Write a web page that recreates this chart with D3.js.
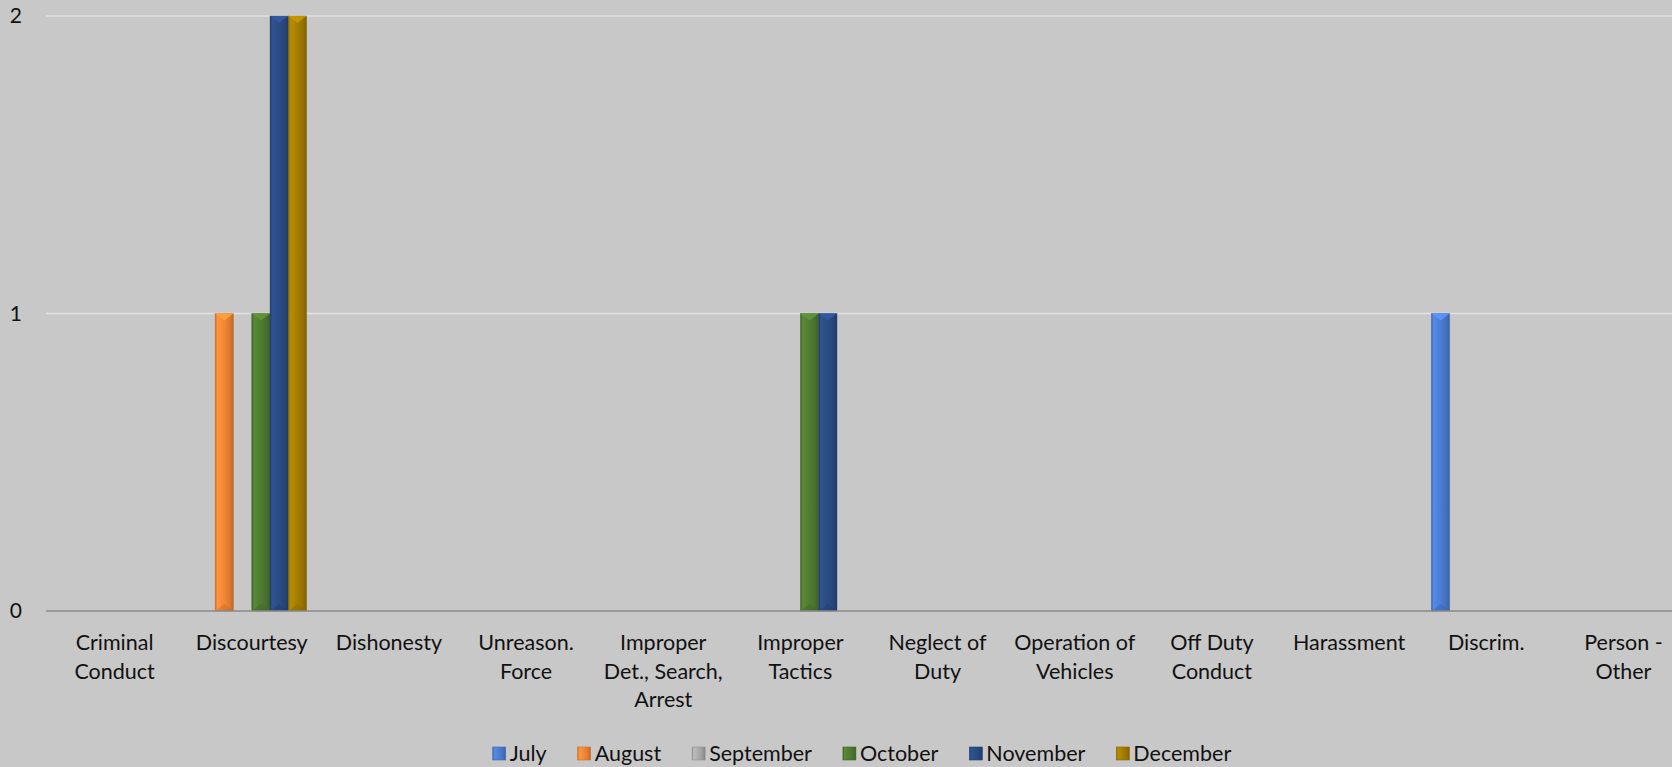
<!DOCTYPE html>
<html>
<head>
<meta charset="utf-8">
<script src="https://cdn.jsdelivr.net/npm/d3@7"></script>
<style>
  body { margin: 0; background: #c8c8c8; overflow: hidden; }
  text { font-family: Lato, "Open Sans", sans-serif; fill: #111; }
</style>
</head>
<body>
<div id="chart"></div>
<script>
// categories (line breaks as in the original axis)
var categories = ["Criminal\nConduct", "Discourtesy", "Dishonesty", "Unreason.\nForce",
  "Improper\nDet., Search,\nArrest", "Improper\nTactics", "Neglect of\nDuty", "Operation of\nVehicles",
  "Off Duty\nConduct", "Harassment", "Discrim.", "Person -\nOther"];

var months = ["July", "August", "September", "October", "November", "December"];

var july      = [0, 0, 0, 0, 0, 0, 0, 0, 0, 0, 1, 0];
var august    = [0, 1, 0, 0, 0, 0, 0, 0, 0, 0, 0, 0];
var september = [0, 0, 0, 0, 0, 0, 0, 0, 0, 0, 0, 0];
var october   = [0, 1, 0, 0, 0, 1, 0, 0, 0, 0, 0, 0];
var november  = [0, 2, 0, 0, 0, 1, 0, 0, 0, 0, 0, 0];
var december  = [0, 2, 0, 0, 0, 0, 0, 0, 0, 0, 0, 0];

var yTicks = [0, 1, 2];

var series = [july, august, september, october, november, december];
var colors = ["#4a7bd0", "#ef8434", "#a8a8a8", "#4e7a31", "#2a4a82", "#a27c00"];

/*********************** Plot Below *********************/
var width = 1672, height = 767;
// the plot area runs past the right edge of the picture (cropped like the original)
var plot = { left: 46, right: 1692, top: 16, bottom: 611 };

var svg = d3.select("#chart").append("svg")
  .attr("width", width)
  .attr("height", height);

var x0 = d3.scaleBand()
  .domain(d3.range(categories.length))
  .range([plot.left, plot.right])
  .padding(0);

var x1 = d3.scaleBand()
  .domain(months)
  .range([0, x0.bandwidth()])
  .paddingInner(0)
  .paddingOuter(0.75);

var y = d3.scaleLinear()
  .domain([0, 2])
  .range([plot.bottom, plot.top]);

// gradients for the bevelled bars
var defs = svg.append("defs");
colors.forEach(function(c, i) {
  var g = defs.append("linearGradient")
    .attr("id", "grad" + i)
    .attr("x1", "0%").attr("x2", "100%").attr("y1", "0%").attr("y2", "0%");
  var base = d3.color(c);
  g.append("stop").attr("offset", "0%").attr("stop-color", base.darker(0.6));
  g.append("stop").attr("offset", "12%").attr("stop-color", base.brighter(0.35));
  g.append("stop").attr("offset", "35%").attr("stop-color", base.brighter(0.15));
  g.append("stop").attr("offset", "55%").attr("stop-color", base);
  g.append("stop").attr("offset", "80%").attr("stop-color", base.darker(0.25));
  g.append("stop").attr("offset", "100%").attr("stop-color", base.darker(0.7));
});

// gridlines
svg.append("g").selectAll("line")
  .data(yTicks.filter(function(d) { return d > 0; }))
  .enter().append("line")
  .attr("x1", plot.left).attr("x2", width)
  .attr("y1", function(d) { return y(d); })
  .attr("y2", function(d) { return y(d); })
  .attr("stroke", "#e2e2e2")
  .attr("stroke-width", 1.5);

// y labels
var yAxis = d3.axisLeft(y).tickValues(yTicks).tickFormat(d3.format("d")).tickSize(0).tickPadding(0);
var yg = svg.append("g")
  .attr("transform", "translate(22,0)")
  .call(yAxis);
yg.select(".domain").remove();
yg.selectAll("text")
  .style("font-family", "Lato, sans-serif")
  .style("font-size", "21px")
  .attr("fill", "#111");

// bars
var groups = svg.append("g").selectAll("g")
  .data(series)
  .enter().append("g");

var bars = groups.selectAll("g")
  .data(function(s, i) {
    return s.map(function(v, k) { return { s: i, k: k, v: v }; })
      .filter(function(d) { return d.v > 0; });
  })
  .enter().append("g");

bars.append("rect")
  .attr("x", function(d) { return x0(d.k) + x1(months[d.s]); })
  .attr("y", function(d) { return y(d.v); })
  .attr("width", x1.bandwidth())
  .attr("height", function(d) { return y(0) - y(d.v); })
  .attr("fill", function(d) { return "url(#grad" + d.s + ")"; })
  .attr("stroke", function(d) { return d3.color(colors[d.s]).darker(0.5); })
  .attr("stroke-opacity", 0.5)
  .attr("stroke-width", 0.8);

// top bevel triangle
bars.append("path")
  .attr("d", function(d) {
    var xl = x0(d.k) + x1(months[d.s]), w = x1.bandwidth(), yt = y(d.v);
    return "M" + xl + "," + yt + "L" + (xl + w) + "," + yt + "L" + (xl + w / 2) + "," + (yt + 7) + "Z";
  })
  .attr("fill", function(d) { return d3.color(colors[d.s]).brighter(0.6); })
  .attr("opacity", 0.85);

// bottom bevel triangle
bars.append("path")
  .attr("d", function(d) {
    var xl = x0(d.k) + x1(months[d.s]), w = x1.bandwidth(), yb = y(0);
    return "M" + xl + "," + yb + "L" + (xl + w) + "," + yb + "L" + (xl + w / 2) + "," + (yb - 7) + "Z";
  })
  .attr("fill", function(d) { return d3.color(colors[d.s]).darker(0.5); })
  .attr("opacity", 0.5);

// zero axis line
svg.append("line")
  .attr("x1", plot.left).attr("x2", width)
  .attr("y1", y(0)).attr("y2", y(0))
  .attr("stroke", "#8a8a8a")
  .attr("stroke-width", 1.5);

// category labels
var xl = svg.append("g").selectAll("text")
  .data(categories)
  .enter().append("text")
  .attr("x", function(d, i) { return x0(i) + x0.bandwidth() / 2; })
  .attr("y", 650)
  .attr("text-anchor", "middle")
  .style("font-size", "21.5px");

xl.selectAll("tspan")
  .data(function(d) { return d.split("\n"); })
  .enter().append("tspan")
  .attr("x", function() { return d3.select(this.parentNode).attr("x"); })
  .attr("dy", function(d, i) { return i === 0 ? 0 : 28.5; })
  .text(function(d) { return d; });

/****************** Legend *******************************/
var legend = svg.append("g");
var gap = 31;
var lx = 0;
months.forEach(function(m, i) {
  var item = legend.append("g").attr("transform", "translate(" + lx + ",0)");
  item.append("rect")
    .attr("x", 0).attr("y", -14)
    .attr("width", 13).attr("height", 13)
    .attr("fill", "url(#grad" + i + ")")
    .attr("stroke", d3.color(colors[i]).darker(0.4))
    .attr("stroke-width", 0.6);
  var t = item.append("text")
    .attr("x", 17).attr("y", 0)
    .style("font-size", "21.5px")
    .text(m);
  lx += 17 + t.node().getComputedTextLength() + gap;
});
var lw = lx - gap;
legend.attr("transform", "translate(" + (862 - lw / 2) + ",761)");
</script>
</body>
</html>
